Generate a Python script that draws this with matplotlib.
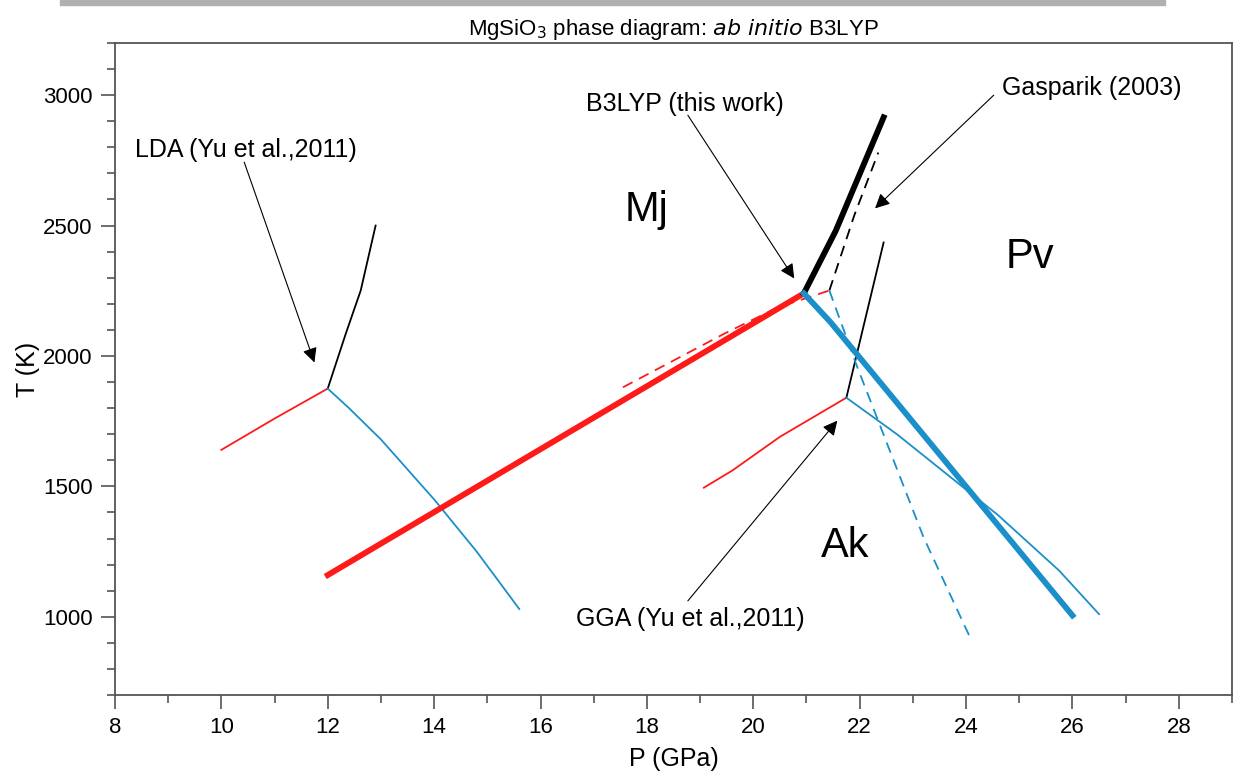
import numpy as np
import matplotlib.pyplot as plt
from matplotlib.patches import Rectangle

plt.rcParams['font.family'] = ['Liberation Sans', 'DejaVu Sans']

RED = '#ff1a1a'
BLUE = '#1a8fc9'

# B3LYP (this work) - thick lines
b3_mj_ak_p = [12.0, 20.95]
b3_mj_ak_t = [1160, 2240]
b3_mj_pv_p = [20.95, 21.55, 22.45]
b3_mj_pv_t = [2240, 2480, 2915]
b3_ak_pv_p = [20.95, 21.45, 26.0]
b3_ak_pv_t = [2240, 2130, 1005]

# Gasparik (2003) - dashed
ga_mj_ak_p = [17.55, 19.46, 20.5, 21.0, 21.43]
ga_mj_ak_t = [1880, 2086, 2190, 2222, 2251]
ga_mj_pv_p = [21.43, 21.9, 22.35]
ga_mj_pv_t = [2251, 2540, 2780]
ga_ak_pv_p = [21.43, 21.95, 23.2, 24.1]
ga_ak_pv_t = [2251, 1960, 1305, 910]

# LDA (Yu et al., 2011) - thin
lda_mj_ak_p = [10.0, 11.0, 12.0]
lda_mj_ak_t = [1640, 1760, 1875]
lda_mj_pv_p = [12.0, 12.34, 12.62, 12.9]
lda_mj_pv_t = [1875, 2086, 2251, 2500]
lda_ak_pv_p = [12.0, 12.4, 13.0, 14.0, 14.8, 15.6]
lda_ak_pv_t = [1875, 1800, 1680, 1450, 1250, 1030]

# GGA (Yu et al., 2011) - thin
gga_mj_ak_p = [19.07, 19.6, 20.5, 21.75]
gga_mj_ak_t = [1495, 1560, 1690, 1840]
gga_mj_pv_p = [21.75, 22.45]
gga_mj_pv_t = [1840, 2435]
gga_ak_pv_p = [21.75, 22.7, 23.6, 24.6, 25.75, 26.5]
gga_ak_pv_t = [1840, 1700, 1553, 1390, 1177, 1010]

fig = plt.figure(figsize=(12.55, 7.72), dpi=100)
ax = fig.add_axes([0.0916, 0.0997, 0.8901, 0.8446])

# screenshot bar at the top
fig.patches.append(Rectangle((0.048, 0.9935), 0.88, 0.0065, transform=fig.transFigure,
                             color='#b0b0b0', zorder=0))

thin = 1.3
thick = 4.2
dash = (0, (6, 4))
ax.plot(lda_mj_ak_p, lda_mj_ak_t, color=RED, lw=thin)
ax.plot(lda_mj_pv_p, lda_mj_pv_t, color='black', lw=thin)
ax.plot(lda_ak_pv_p, lda_ak_pv_t, color=BLUE, lw=thin)

ax.plot(gga_mj_ak_p, gga_mj_ak_t, color=RED, lw=thin)
ax.plot(gga_mj_pv_p, gga_mj_pv_t, color='black', lw=thin)
ax.plot(gga_ak_pv_p, gga_ak_pv_t, color=BLUE, lw=thin)

ax.plot(ga_mj_ak_p, ga_mj_ak_t, color=RED, lw=thin, ls=dash)
ax.plot(ga_mj_pv_p, ga_mj_pv_t, color='black', lw=thin, ls=dash)
ax.plot(ga_ak_pv_p, ga_ak_pv_t, color=BLUE, lw=thin, ls=dash)

ax.plot(b3_mj_ak_p, b3_mj_ak_t, color=RED, lw=thick)
ax.plot(b3_mj_pv_p, b3_mj_pv_t, color='black', lw=thick)
ax.plot(b3_ak_pv_p, b3_ak_pv_t, color=BLUE, lw=thick)

# phase labels
ax.text(18.0, 2558, 'Mj', fontsize=30, ha='center', va='center')
ax.text(25.2, 2378, 'Pv', fontsize=30, ha='center', va='center')
ax.text(21.73, 1273, 'Ak', fontsize=30, ha='center', va='center')

# annotations: label text, then an arrow from near the label to the curve
arrow = dict(arrowstyle='-|>', color='black', lw=0.8, mutation_scale=22,
             shrinkA=0, shrinkB=0)
ax.text(8.37, 2789, 'LDA (Yu et al.,2011)', fontsize=18, ha='left', va='center')
ax.annotate('', xy=(11.75, 1975), xytext=(10.43, 2743), arrowprops=arrow)
ax.text(16.86, 2965, 'B3LYP (this work)', fontsize=18, ha='left', va='center')
ax.annotate('', xy=(20.77, 2297), xytext=(18.77, 2923), arrowprops=arrow)
ax.text(24.67, 3027, 'Gasparik (2003)', fontsize=18, ha='left', va='center')
ax.annotate('', xy=(22.29, 2566), xytext=(24.52, 3000), arrowprops=arrow)
ax.text(16.67, 992, 'GGA (Yu et al.,2011)', fontsize=18, ha='left', va='center')
ax.annotate('', xy=(21.58, 1752), xytext=(18.77, 1061), arrowprops=arrow)

ax.set_xlim(8, 29)
ax.set_ylim(700, 3200)
ax.set_xticks(np.arange(8, 29, 2))
ax.set_xticks(np.arange(8, 30, 1), minor=True)
ax.set_yticks(np.arange(1000, 3001, 500))
ax.set_yticks(np.arange(700, 3201, 100), minor=True)
ax.tick_params(which='major', direction='out', length=10, width=1.2, color='#555555',
               labelsize=16, pad=6)
ax.tick_params(which='minor', direction='out', length=6, width=1.2, color='#555555')
for s in ax.spines.values():
    s.set_color('#555555')
    s.set_linewidth(1.3)

ax.set_xlabel('P (GPa)', fontsize=18, labelpad=6)
ax.set_ylabel('T (K)', fontsize=18, labelpad=2)
ax.set_title(r'MgSiO$_3$ phase diagram: $\mathit{ab\ initio}$ B3LYP', fontsize=16, pad=6)

fig.savefig('out.png', dpi=100)
